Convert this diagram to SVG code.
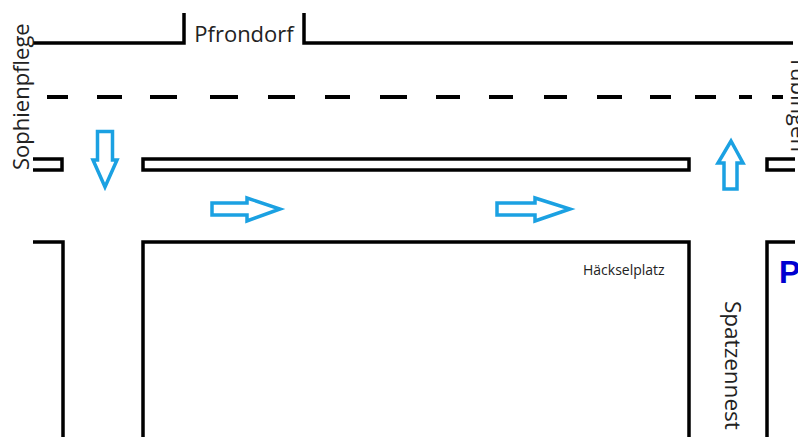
<svg xmlns="http://www.w3.org/2000/svg" width="798" height="437" viewBox="0 0 798 437">
<style>
.road{fill:none;stroke:#000;stroke-width:3.5;stroke-linejoin:miter;stroke-linecap:butt}
.dash{stroke:#000;stroke-width:4}
.arrow{fill:#fff;stroke:#1ba1e2;stroke-width:3.5;stroke-linejoin:miter}
.lbl{font-family:"Open Sans","Liberation Sans",sans-serif;fill:#222}
</style>
<rect width="798" height="437" fill="#fff"/>
<g id="roads">
<path class="road" d="M33,43 H184 V13"/>
<path class="road" d="M304,13 V43 H793"/>
<path class="road" d="M33,159 H62 V170 H33"/>
<rect class="road" x="143" y="159" width="546" height="11"/>
<path class="road" d="M795,159 H767 V170 H795"/>
<path class="road" d="M33,242 H63 V437"/>
<path class="road" d="M143,437 V242 H689 V437"/>
<path class="road" d="M795,242 H767 V437"/>
</g>
<g id="centerline" class="dash">
<line x1="47" y1="97" x2="68" y2="97"/>
<line x1="97" y1="97" x2="122" y2="97"/>
<line x1="150" y1="97" x2="177" y2="97"/>
<line x1="210" y1="97" x2="238" y2="97"/>
<line x1="268" y1="97" x2="295" y2="97"/>
<line x1="325" y1="97" x2="350" y2="97"/>
<line x1="380" y1="97" x2="407" y2="97"/>
<line x1="436" y1="97" x2="460" y2="97"/>
<line x1="489" y1="97" x2="513" y2="97"/>
<line x1="544" y1="97" x2="567" y2="97"/>
<line x1="597" y1="97" x2="622" y2="97"/>
<line x1="650" y1="97" x2="671" y2="97"/>
<line x1="695" y1="97" x2="716" y2="97"/>
<line x1="739" y1="97" x2="752" y2="97"/>
<line x1="772" y1="97" x2="783" y2="97"/>
</g>
<g id="connectors">
<polygon id="arrow-down" class="arrow" points="97.5,131.5 112.5,131.5 112.5,160 117,160 105,187 93,160 97.5,160"/>
<polygon id="arrow-up" class="arrow" points="724,189 737,189 737,163 743,163 731,141 718,163 724,163"/>
<polygon id="arrow-right-1" class="arrow" points="212,203 247,203 247,198 280,209 247,221 247,215 212,215"/>
<polygon id="arrow-right-2" class="arrow" points="497,203 535,203 535,198 570,209 535,221 535,215 497,215"/>
</g>
<g id="label-pfrondorf"><text class="lbl" x="244" y="42" font-size="22" text-anchor="middle">Pfrondorf</text></g>
<g id="label-sophienpflege"><text class="lbl" transform="translate(29,170) rotate(-90)" font-size="22">Sophienpflege</text></g>
<g id="label-tuebingen"><text class="lbl" transform="translate(791,56) rotate(90)" font-size="22">Tübingen</text></g>
<g id="label-spatzennest"><text class="lbl" transform="translate(725,301) rotate(90)" font-size="22.5">Spatzennest</text></g>
<g id="label-haeckselplatz"><text class="lbl" x="583" y="275" font-size="14">Häckselplatz</text></g>
<g id="label-parking"><text x="779" y="283" font-family="'Liberation Sans',Arial,sans-serif" font-weight="bold" font-size="32" fill="#0000d0">P</text></g>
</svg>
